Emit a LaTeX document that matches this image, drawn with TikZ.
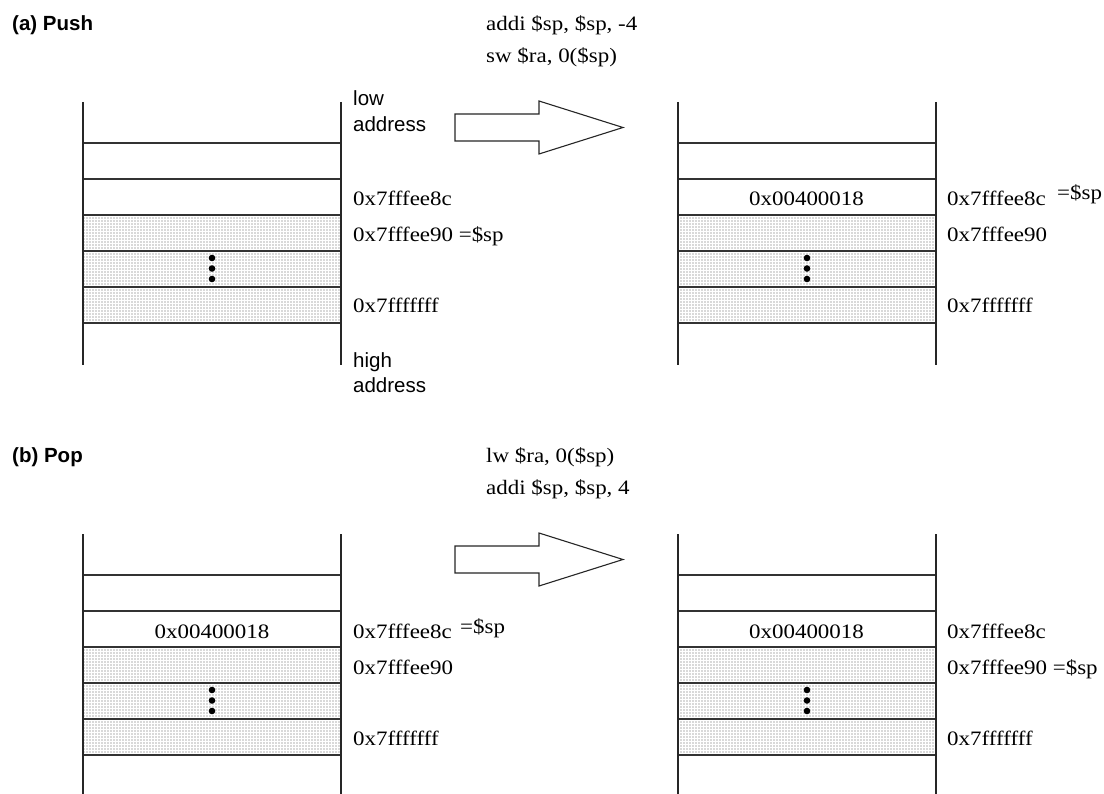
\documentclass[tikz,border=0pt]{standalone}
\usepackage{fontspec}
\setmainfont{Liberation Serif}[FakeStretch=1.12]
\newfontfamily\labelsans{Liberation Sans}
\usetikzlibrary{patterns.meta}

\tikzset{
  wall/.style={line width=1.1pt, draw=black!85},
  rowline/.style={line width=1.4pt, draw=black!80},
  stipple/.style={pattern={Dots[distance=3pt,radius=0.6pt]}, pattern color=black!65},
  addr/.style={anchor=base west, inner sep=0pt, font=\fontsize{20.5}{24}\selectfont},
  word/.style={anchor=base, inner sep=0pt, font=\fontsize{20.5}{24}\selectfont},
  code/.style={anchor=base west, inner sep=0pt, font=\fontsize{20.5}{24}\selectfont},
  title/.style={anchor=base west, inner sep=0pt, font=\labelsans\bfseries\fontsize{20.5}{24}\selectfont},
  side/.style={anchor=base west, inner sep=0pt, font=\labelsans\fontsize{20.5}{24}\selectfont},
  bigarrow/.style={draw=black!85, line width=1.1pt, fill=white, line join=miter},
  % memory stack: open top and bottom, six slots, three stippled
  memstack/.pic={
    \fill[stipple] (0,113) rectangle (258,221);
    \foreach \yy in {41,77,113,149,185,221} \draw[rowline] (0,\yy) -- (258,\yy);
    \draw[wall] (0,0) -- (0,#1) (258,0) -- (258,#1);
    \foreach \dd in {156,166.5,177} \fill[black] (129,\dd) circle (3.3pt);
  }
}

\begin{document}
\begin{tikzpicture}[x=1pt,y=-1pt]
\useasboundingbox (0,0) rectangle (1104,794);

% ---------- (a) Push ----------
\node[title] (pushT) at (12,31) {(a) Push};
\node[code] (push1) at (486,31) {addi \$sp, \$sp, -4};
\node[code] (push2) at (486,63) {sw \$ra, 0(\$sp)};

\pic at (83,102) {memstack=263};
\pic at (678,102) {memstack=263};

\draw[bigarrow] (455,114) -- (539,114) -- (539,101) -- (623,127.5)
  -- (539,154) -- (539,141) -- (455,141) -- cycle;

\node[side] (lowA) at (353,106) {low};
\node[side] (lowB) at (353,132) {address};
\node[side] (highA) at (353,368) {high};
\node[side] (highB) at (353,393) {address};

\node[addr] (aL1) at (353,206) {0x7fffee8c};
\node[addr] (aL2) at (353,242) {0x7fffee90 =\$sp};
\node[addr] (aL3) at (353,313) {0x7fffffff};

\node[word] (aRw) at (806.5,206) {0x00400018};
\node[addr] (aR1) at (947,206) {0x7fffee8c};
\node[addr] (aRsp) at (1057,200) {=\$sp};
\node[addr] (aR2) at (947,242) {0x7fffee90};
\node[addr] (aR3) at (947,313) {0x7fffffff};

% ---------- (b) Pop ----------
\node[title] (popT) at (12,463) {(b) Pop};
\node[code] (pop1) at (486,463) {lw \$ra, 0(\$sp)};
\node[code] (pop2) at (486,494) {addi \$sp, \$sp, 4};

\pic at (83,534) {memstack=260};
\pic at (678,534) {memstack=260};

\draw[bigarrow] (455,546) -- (539,546) -- (539,533) -- (623,559.5)
  -- (539,586) -- (539,573) -- (455,573) -- cycle;

\node[word] (bLw) at (212,638) {0x00400018};
\node[addr] (bL1) at (353,638) {0x7fffee8c};
\node[addr] (bLsp) at (460,633) {=\$sp};
\node[addr] (bL2) at (353,674) {0x7fffee90};
\node[addr] (bL3) at (353,745) {0x7fffffff};

\node[word] (bRw) at (806.5,638) {0x00400018};
\node[addr] (bR1) at (947,638) {0x7fffee8c};
\node[addr] (bR2) at (947,674) {0x7fffee90 =\$sp};
\node[addr] (bR3) at (947,745) {0x7fffffff};
\end{tikzpicture}
\end{document}
